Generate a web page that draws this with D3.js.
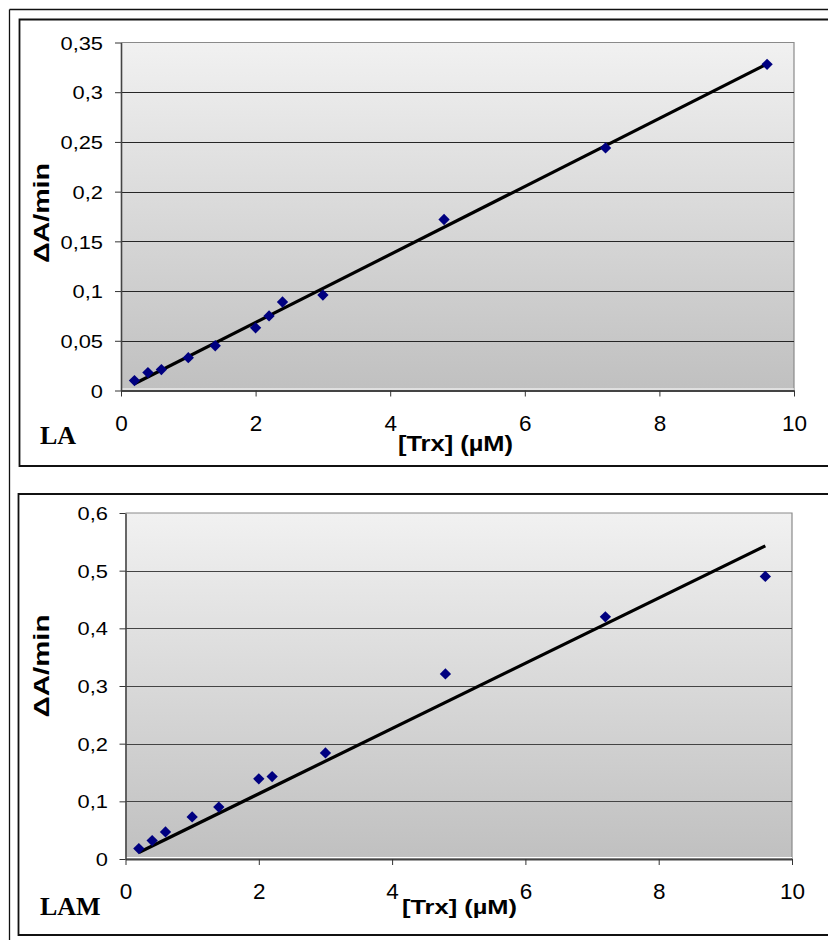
<!DOCTYPE html>
<html>
<head>
<meta charset="utf-8">
<script src="https://cdn.jsdelivr.net/npm/d3@7"></script>
<style>
  html, body { margin: 0; padding: 0; background: #fff; }
  svg { display: block; }
</style>
</head>
<body>
<svg id="chart" width="828" height="940"></svg>
<script>
// ---------- DATA ----------
const trxLA   = [0.2, 0.4, 0.6, 1.0, 1.4, 2.0, 2.2, 2.4, 3.0, 4.8, 7.2, 9.6];
const rateLA  = [0.010, 0.018, 0.021, 0.033, 0.045, 0.063, 0.075, 0.089, 0.096, 0.172, 0.244, 0.328];
const trxLAM  = [0.2, 0.4, 0.6, 1.0, 1.4, 2.0, 2.2, 3.0, 4.8, 7.2, 9.6];
const rateLAM = [0.018, 0.032, 0.047, 0.073, 0.090, 0.139, 0.143, 0.184, 0.321, 0.420, 0.490];

const xTicks      = [0, 2, 4, 6, 8, 10];
const yTicksLA    = [0, 0.05, 0.1, 0.15, 0.2, 0.25, 0.3, 0.35];
const yTicksLAM   = [0, 0.1, 0.2, 0.3, 0.4, 0.5, 0.6];
const xTitle = "[Trx] (µM)";
const yTitle = "ΔA/min";
const panelLabels = ["LA", "LAM"];

// ---------- DRAWING ----------
const svg = d3.select("#chart");
const defs = svg.append("defs");
const grad = defs.append("linearGradient").attr("id", "bg").attr("x1", 0).attr("y1", 0).attr("x2", 0).attr("y2", 1);
grad.append("stop").attr("offset", "0%").attr("stop-color", "#f1f1f1");
grad.append("stop").attr("offset", "100%").attr("stop-color", "#c0c0c0");

const fmt = v => String(+v.toFixed(2)).replace(".", ",");

// outer frame lines
svg.append("line").attr("x1", 9.5).attr("x2", 9.5).attr("y1", 9.5).attr("y2", 940)
  .attr("stroke", "#111").attr("stroke-width", 1.3);
svg.append("line").attr("x1", 9.5).attr("x2", 828).attr("y1", 9.5).attr("y2", 9.5)
  .attr("stroke", "#111").attr("stroke-width", 1.3);

const panels = [
  { xs: trxLA, ys: rateLA, yTicks: yTicksLA, yMax: 0.35, label: panelLabels[0],
    box: { x: 19.5, y: 19.5, b: 466 },
    plot: { l: 121, r: 794, t: 42.5, b: 390.5 },
    labelPos: [40, 444],
    xTitle: { cx: 455.5, y: 451, size: 22 },
    yTitle: { cy: 213, x: 49, len: 100 },
    yLabelGap: 18,
    grid: "#262626" },
  { xs: trxLAM, ys: rateLAM, yTicks: yTicksLAM, yMax: 0.6, label: panelLabels[1],
    box: { x: 18.5, y: 494, b: 935 },
    plot: { l: 125.5, r: 792, t: 513, b: 859 },
    labelPos: [40, 915],
    xTitle: { cx: 459.5, y: 914, size: 21 },
    yTitle: { cy: 666, x: 49, len: 103 },
    yLabelGap: 17.5,
    grid: "#444" }
];

panels.forEach(p => {
  const g = svg.append("g");
  // chart box
  g.append("path")
    .attr("d", `M830,${p.box.y}H${p.box.x}V${p.box.b}H830`)
    .attr("fill", "none").attr("stroke", "#111").attr("stroke-width", 1.8);

  const x = d3.scaleLinear().domain([0, 10]).range([p.plot.l, p.plot.r]);
  const y = d3.scaleLinear().domain([0, p.yMax]).range([p.plot.b, p.plot.t]);

  // plot background
  g.append("rect").attr("x", x(0)).attr("y", y(p.yMax))
    .attr("width", x(10) - x(0)).attr("height", y(0) - y(p.yMax))
    .attr("fill", "url(#bg)");
  // top & right border
  g.append("path").attr("d", `M${x(0)},${y(p.yMax)}H${x(10)}V${y(0)}`)
    .attr("fill", "none").attr("stroke", "#8a8a8a").attr("stroke-width", 1.2);

  // gridlines
  g.append("g").selectAll("line").data(p.yTicks.filter(v => v > 0 && v < p.yMax - 1e-9)).join("line")
    .attr("x1", x(0)).attr("x2", x(10))
    .attr("y1", d => Math.round(y(d)) + 0.5).attr("y2", d => Math.round(y(d)) + 0.5)
    .attr("stroke", p.grid).attr("stroke-width", 1.1);

  // white line above x axis
  g.append("line").attr("x1", x(0)).attr("x2", x(10)).attr("y1", y(0) - 1.5).attr("y2", y(0) - 1.5)
    .attr("stroke", "#fff").attr("stroke-width", 1);

  // y axis
  const yAxis = g.append("g").attr("transform", `translate(${x(0)},0)`)
    .call(d3.axisLeft(y).tickValues(p.yTicks).tickFormat(fmt).tickSizeInner(6).tickSizeOuter(0).tickPadding(0));
  yAxis.select(".domain").attr("stroke", "#444").attr("stroke-width", 1.6);
  yAxis.selectAll(".tick line").attr("stroke", "#333");
  yAxis.selectAll(".tick text")
    .attr("font-family", "'Liberation Sans', Arial, sans-serif")
    .attr("font-size", 19).attr("fill", "#000")
    .attr("x", null).attr("dy", "0.35em")
    .attr("transform", `translate(${-p.yLabelGap},0) scale(1.15,1)`);

  // x axis
  const xAxis = g.append("g").attr("transform", `translate(0,${y(0)})`)
    .call(d3.axisBottom(x).tickValues(xTicks).tickFormat(d => d).tickSizeInner(6).tickSizeOuter(0).tickPadding(0));
  xAxis.select(".domain").attr("stroke", "#444").attr("stroke-width", 1.8);
  xAxis.selectAll(".tick line").attr("stroke", "#333");
  xAxis.selectAll(".tick text")
    .attr("font-family", "'Liberation Sans', Arial, sans-serif")
    .attr("font-size", 22.5).attr("fill", "#000")
    .attr("y", 40).attr("dy", 0);

  // trendline: least squares through origin
  const sxy = d3.sum(p.xs, (v, i) => v * p.ys[i]);
  const sxx = d3.sum(p.xs, v => v * v);
  const slope = sxy / sxx;
  const ext = d3.extent(p.xs);
  g.append("path")
    .datum(ext.map(v => [v, slope * v]))
    .attr("d", d3.line().x(d => x(d[0])).y(d => y(d[1])))
    .attr("fill", "none").attr("stroke", "#000").attr("stroke-width", 3.2);

  // markers
  const sym = d3.symbol(d3.symbolSquare, 64);
  g.append("g").selectAll("path").data(p.xs.map((v, i) => [v, p.ys[i]])).join("path")
    .attr("d", sym)
    .attr("transform", d => `translate(${x(d[0])},${y(d[1])}) rotate(45)`)
    .attr("fill", "#000080");

  // axis titles
  g.append("text").text(xTitle)
    .attr("x", p.xTitle.cx).attr("y", p.xTitle.y)
    .attr("text-anchor", "middle")
    .attr("font-family", "'Liberation Sans', Arial, sans-serif")
    .attr("font-weight", "bold").attr("font-size", p.xTitle.size)
    .attr("textLength", 115).attr("lengthAdjust", "spacingAndGlyphs");

  g.append("text").text(yTitle)
    .attr("transform", `translate(${p.yTitle.x},${p.yTitle.cy}) rotate(-90)`)
    .attr("text-anchor", "middle")
    .attr("font-family", "'Liberation Sans', Arial, sans-serif")
    .attr("font-weight", "bold").attr("font-size", 22)
    .attr("textLength", p.yTitle.len).attr("lengthAdjust", "spacingAndGlyphs");

  // panel label
  g.append("text").text(p.label)
    .attr("x", p.labelPos[0]).attr("y", p.labelPos[1])
    .attr("font-family", "'Liberation Serif', 'Times New Roman', serif")
    .attr("font-weight", "bold").attr("font-size", 26);
});
</script>
</body>
</html>
